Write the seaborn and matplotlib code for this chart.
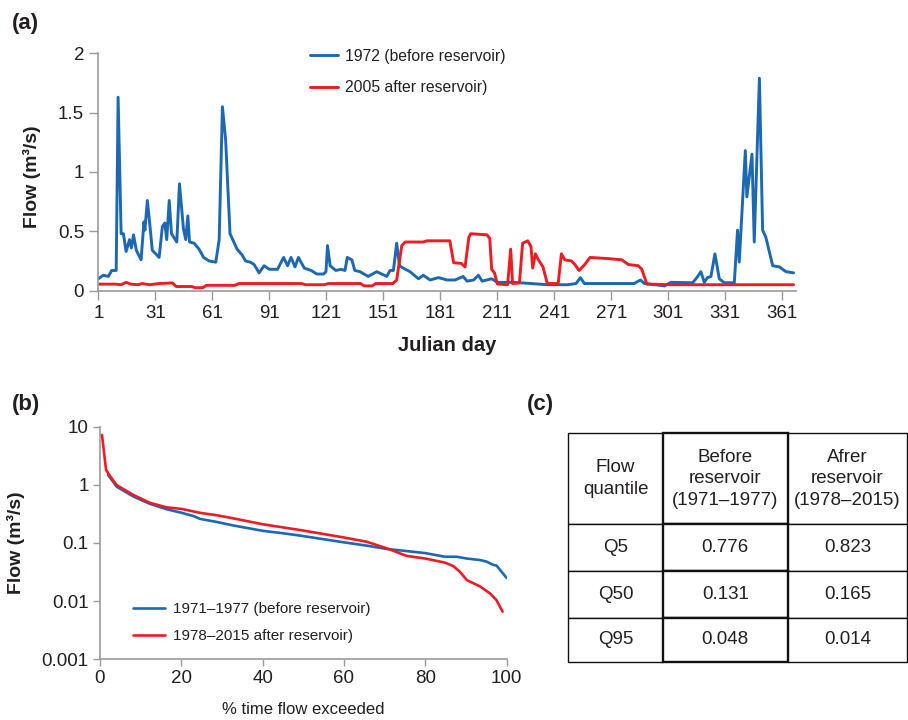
import numpy as np
import pandas as pd
import matplotlib
matplotlib.use("Agg")
import matplotlib.pyplot as plt
import seaborn as sns
from matplotlib.ticker import FixedLocator, FixedFormatter, NullLocator

# ---- panel (a): daily flow, 1972 vs 2005 ----
days_1972 = [1, 3.6, 6.3, 8, 10.4, 11.4, 13, 14.2, 15.6, 17.4, 18.4, 19.5, 21, 23.5,
             25, 25.5, 26.8, 28.2, 29.4, 33, 34.7, 36, 37, 38.3, 39.5, 42.3, 43.7,
             45.8, 47, 48.1, 49, 51.4, 54, 56.4, 59.3, 62.8, 64.6, 66.3, 68, 70.3,
             74, 76.7, 78.5, 81, 83, 85.6, 88.2, 91, 95.3, 98.5, 100.6, 102.4, 104.5,
             106.3, 109.4, 113, 116, 119.5, 120.8, 121.6, 123, 126, 128.6, 130.8,
             132, 134.4, 136, 138.7, 143, 147.5, 152.8, 154.5, 156.3, 158, 159.5,
             161.5, 165, 169.5, 172, 175.6, 180, 184.5, 188.8, 193, 195, 198.5, 201,
             203, 208, 211, 220, 228.7, 237.5, 248, 252.4, 254.7, 256.8, 269, 283,
             286.3, 288.4, 299, 302.3, 313.8, 316, 318.1, 319.9, 321.6, 323.4, 325.5,
             327.8, 330.4, 335.7, 337.4, 338.3, 341.5, 342.3, 345, 346.2, 348.9,
             350.6, 352.3, 355.9, 359.4, 362.9, 366.9]
flow_1972 = [0.10, 0.13, 0.12, 0.17, 0.17, 1.63, 0.48, 0.48, 0.33, 0.43, 0.36, 0.47, 0.34, 0.26,
             0.58, 0.51, 0.76, 0.54, 0.34, 0.28, 0.54, 0.57, 0.43, 0.76, 0.48, 0.41, 0.90,
             0.52, 0.43, 0.63, 0.41, 0.40, 0.35, 0.28, 0.25, 0.24, 0.43, 1.55, 1.27, 0.48,
             0.35, 0.30, 0.25, 0.24, 0.22, 0.15, 0.21, 0.18, 0.18, 0.28, 0.21, 0.28, 0.20,
             0.28, 0.19, 0.17, 0.14, 0.14, 0.16, 0.38, 0.21, 0.17, 0.18, 0.17,
             0.28, 0.26, 0.17, 0.16, 0.12, 0.16, 0.12, 0.17, 0.17, 0.40, 0.21,
             0.19, 0.16, 0.10, 0.13, 0.09, 0.11, 0.09, 0.09, 0.12, 0.08, 0.09, 0.13,
             0.08, 0.10, 0.07, 0.07, 0.06, 0.05, 0.05, 0.06, 0.11, 0.06, 0.06, 0.06,
             0.09, 0.06, 0.04, 0.07, 0.067, 0.11, 0.16, 0.07, 0.11, 0.12, 0.31,
             0.10, 0.067, 0.067, 0.51, 0.24, 1.18, 0.79, 1.15, 0.41, 1.79,
             0.51, 0.45, 0.21, 0.20, 0.16, 0.15]

days_2005 = [1, 10, 13, 15.6, 18, 22, 24, 28, 33, 40, 42, 50, 52, 56, 58, 73, 75, 108,
             110, 120, 122, 128, 139, 141, 145, 147, 156, 158, 160.7, 162.5, 172, 174,
             186, 188, 192, 194, 196, 197, 205.6, 207, 208, 209.5, 211, 216.4, 218, 219,
             222.6, 224.3, 227, 228.7, 229.6, 231, 232.6, 235, 237.3, 243, 244.7, 246.5,
             250, 251.8, 254, 257, 259.8, 269.4, 276.4, 280, 285.2, 287, 289.7, 302,
             366.9]
flow_2005 = [0.055, 0.055, 0.05, 0.07, 0.055, 0.05, 0.06, 0.05, 0.06, 0.065, 0.035, 0.035,
             0.025, 0.025, 0.045, 0.045, 0.06, 0.06, 0.05, 0.05, 0.06, 0.06, 0.06, 0.04,
             0.04, 0.06, 0.06, 0.09, 0.38, 0.41, 0.41, 0.42, 0.42, 0.235, 0.23, 0.20,
             0.45, 0.48, 0.47, 0.44, 0.18, 0.15, 0.056, 0.05, 0.35, 0.06, 0.065, 0.40,
             0.42, 0.37, 0.19, 0.31, 0.26, 0.20, 0.06, 0.06, 0.31, 0.26, 0.25, 0.22,
             0.17, 0.22, 0.28, 0.27, 0.26, 0.22, 0.21, 0.18, 0.056, 0.05, 0.05]

day_ticks = [1, 31, 61, 91, 121, 151, 181, 211, 241, 271, 301, 331, 361]
flow_ticks_a = [0, 0.5, 1, 1.5, 2]
flow_tick_labels_a = ["0", "0.5", "1", "1.5", "2"]

# ---- panel (b): flow duration curves ----
exceed_before = [2, 4.1, 8.2, 12.3, 16.4, 20.1, 23, 24.6, 28.7, 32.8, 40, 45, 49.2,
                 59.8, 65.6, 70.5, 80, 84.8, 87.7, 90.2, 93.4, 95, 96.7, 97.5, 100]
flow_before = [1.48, 0.93, 0.63, 0.47, 0.38, 0.33, 0.29, 0.26, 0.23, 0.20, 0.162, 0.147,
               0.134, 0.103, 0.090, 0.079, 0.067, 0.058, 0.058, 0.054, 0.051, 0.048,
               0.042, 0.041, 0.025]
exceed_after = [0.5, 1.5, 2.5, 4.1, 8.2, 12.3, 16.4, 20.1, 24.6, 28.7, 32.8, 40, 49.2,
                59.8, 65.6, 70.5, 75.4, 80, 84.8, 86.9, 88.5, 90.2, 93.4, 95.9, 97.5, 99]
flow_after = [7.2, 1.8, 1.41, 0.99, 0.67, 0.49, 0.41, 0.385, 0.33, 0.30, 0.265, 0.21,
              0.167, 0.125, 0.105, 0.081, 0.060, 0.054, 0.046, 0.040, 0.032, 0.023,
              0.018, 0.0136, 0.0104, 0.0066]
log_ticks = [10, 1, 0.1, 0.01, 0.001]
log_tick_labels = ["10", "1", "0.1", "0.01", "0.001"]
pct_ticks = [0, 20, 40, 60, 80, 100]

# ---- panel (c): quantile table ----
quantiles = ["Q5", "Q50", "Q95"]
q_before = ["0.776", "0.131", "0.048"]
q_after = ["0.823", "0.165", "0.014"]
table_header = ["Flow\nquantile", "Before\nreservoir\n(1971\u20131977)",
                "Afrer\nreservoir\n(1978\u20132015)"]

BLUE = "#1c68b3"
RED = "#ec1c24"
SPINE = "#9a9a9a"
TXT = "#231f20"

sns.set_theme(style="ticks")
plt.rcParams['font.family'] = ['Liberation Sans', 'DejaVu Sans']
plt.rcParams['text.color'] = TXT
plt.rcParams['axes.labelcolor'] = TXT
plt.rcParams['xtick.color'] = SPINE
plt.rcParams['ytick.color'] = SPINE
plt.rcParams['xtick.labelcolor'] = TXT
plt.rcParams['ytick.labelcolor'] = TXT

fig = plt.figure(figsize=(9.08, 7.2), dpi=100)

# ================= (a) =================
ax1 = fig.add_axes([0.1083, 0.5963, 0.768, 0.3297])
df72 = pd.DataFrame({"day": days_1972, "flow": flow_1972})
df05 = pd.DataFrame({"day": days_2005, "flow": flow_2005})
sns.lineplot(data=df72, x="day", y="flow", ax=ax1, color=BLUE, lw=2.1,
             label="1972 (before reservoir)")
sns.lineplot(data=df05, x="day", y="flow", ax=ax1, color=RED, lw=2.1,
             label="2005 after reservoir)")
ax1.set_xlim(1, 368)
ax1.set_ylim(0, 2)
ax1.set_xticks(day_ticks)
ax1.set_yticks(flow_ticks_a)
ax1.set_yticklabels(flow_tick_labels_a)
ax1.tick_params(labelsize=13.5, length=6.3, width=1, pad=4)
ax1.set_xlabel("Julian day", fontsize=14.5, fontweight="bold")
ax1.set_ylabel("Flow (m\u00b3/s)", fontsize=14, fontweight="bold")
ax1.xaxis.set_label_coords(0.5, -0.19)
ax1.yaxis.set_label_coords(-0.082, 0.48)
for s in ["top", "right"]:
    ax1.spines[s].set_visible(False)
for s in ["left", "bottom"]:
    ax1.spines[s].set_color(SPINE)
    ax1.spines[s].set_linewidth(1.2)
ax1.legend(loc="upper left", bbox_to_anchor=(0.3414, 0.932), bbox_transform=fig.transFigure,
           frameon=False, fontsize=11.3, handlelength=1.8, handletextpad=0.45,
           labelspacing=1.05, borderpad=0, borderaxespad=0)
fig.text(0.013, 0.967, "(a)", fontsize=16, fontweight="bold", va="center", ha="left")

# ================= (b) =================
ax2 = fig.add_axes([0.1101, 0.0843, 0.4479, 0.3231])
dfb = pd.DataFrame({"pct": exceed_before, "flow": flow_before})
dfa = pd.DataFrame({"pct": exceed_after, "flow": flow_after})
sns.lineplot(data=dfb, x="pct", y="flow", ax=ax2, color=BLUE, lw=1.9,
             label="1971\u20131977 (before reservoir)")
sns.lineplot(data=dfa, x="pct", y="flow", ax=ax2, color=RED, lw=1.9,
             label="1978\u20132015 after reservoir)")
ax2.set_yscale("log")
ax2.set_xlim(0, 100)
ax2.set_ylim(0.001, 10)
ax2.yaxis.set_major_locator(FixedLocator(log_ticks))
ax2.yaxis.set_major_formatter(FixedFormatter(log_tick_labels))
ax2.yaxis.set_minor_locator(NullLocator())
ax2.set_xticks(pct_ticks)
ax2.tick_params(labelsize=13.5, length=5, width=1, pad=3)
ax2.set_xlabel("% time flow exceeded", fontsize=12)
ax2.set_ylabel("Flow (m\u00b3/s)", fontsize=14, fontweight="bold")
ax2.xaxis.set_label_coords(0.5, -0.185)
ax2.yaxis.set_label_coords(-0.185, 0.5)
for s in ["top", "right"]:
    ax2.spines[s].set_visible(False)
for s in ["left", "bottom"]:
    ax2.spines[s].set_color(SPINE)
    ax2.spines[s].set_linewidth(1.2)
ax2.legend(loc="upper left", bbox_to_anchor=(0.1465, 0.164), bbox_transform=fig.transFigure,
           frameon=False, fontsize=11, handlelength=2.1, handletextpad=0.5,
           labelspacing=0.85, borderpad=0, borderaxespad=0)
fig.text(0.013, 0.438, "(b)", fontsize=16, fontweight="bold", va="center", ha="left")

# ================= (c) =================
fig.text(0.580, 0.438, "(c)", fontsize=16, fontweight="bold", va="center", ha="left")
ax3 = fig.add_axes([0.6259, 0.081, 0.3730, 0.317])
ax3.axis("off")
cells = [[q, b, a] for q, b, a in zip(quantiles, q_before, q_after)]
tbl = ax3.table(cellText=cells, colLabels=table_header, cellLoc="center",
                colWidths=[0.279, 0.369, 0.352], bbox=[0, 0, 1, 1])
tbl.auto_set_font_size(False)
row_h = [0.397, 0.204, 0.206, 0.193]
for (r, c), cell in tbl.get_celld().items():
    cell.set_height(row_h[r])
    cell.set_edgecolor("#111111")
    cell.set_linewidth(1.7 if c == 1 else 1.0)
    cell.set_facecolor("white")
    cell.get_text().set_fontsize(13.5)
    cell.get_text().set_color(TXT)
    cell.get_text().set_linespacing(1.35)

fig.savefig("out.png", dpi=100)
